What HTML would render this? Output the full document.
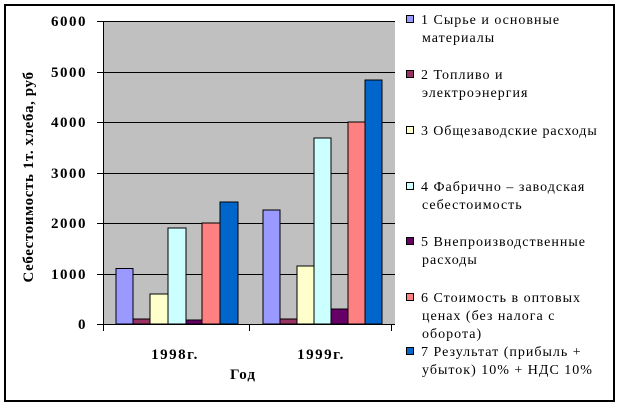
<!DOCTYPE html>
<html><head><meta charset="utf-8"><style>
body{margin:0;background:#fff;}
svg text{font-family:"Liberation Serif","Times New Roman",serif;}
</style></head><body>
<svg width="619" height="407" xmlns="http://www.w3.org/2000/svg" font-family="Liberation Serif, Times New Roman, serif">
<rect x="0" y="0" width="619" height="407" fill="#fff"/>
<rect x="5" y="5" width="609" height="396" fill="#fff" stroke="#000" stroke-width="2"/>
<rect x="103" y="21" width="292" height="303" fill="#c0c0c0"/>
<g stroke="#000" stroke-width="1">
<line x1="103" y1="21.5" x2="395" y2="21.5"/>
<line x1="103" y1="72.5" x2="395" y2="72.5"/>
<line x1="103" y1="122.5" x2="395" y2="122.5"/>
<line x1="103" y1="173.5" x2="395" y2="173.5"/>
<line x1="103" y1="223.5" x2="395" y2="223.5"/>
<line x1="103" y1="274.5" x2="395" y2="274.5"/>
<line x1="103.5" y1="21" x2="103.5" y2="331"/>
<line x1="97" y1="21.5" x2="103" y2="21.5"/>
<line x1="97" y1="72.5" x2="103" y2="72.5"/>
<line x1="97" y1="122.5" x2="103" y2="122.5"/>
<line x1="97" y1="173.5" x2="103" y2="173.5"/>
<line x1="97" y1="223.5" x2="103" y2="223.5"/>
<line x1="97" y1="274.5" x2="103" y2="274.5"/>
<line x1="97" y1="324.5" x2="103" y2="324.5"/>
<line x1="249.5" y1="324" x2="249.5" y2="331"/>
<line x1="391.5" y1="324" x2="391.5" y2="331"/>
</g>
<g stroke="#000" stroke-width="1">
<rect x="116" y="268.5" width="17" height="55.5" fill="#9999ff"/>
<rect x="133" y="319" width="17" height="5" fill="#993366"/>
<rect x="150" y="294" width="18" height="30" fill="#ffffcc"/>
<rect x="168" y="228" width="18" height="96" fill="#ccffff"/>
<rect x="186" y="320" width="16" height="4" fill="#660066"/>
<rect x="202" y="223" width="18" height="101" fill="#ff8080"/>
<rect x="220" y="202" width="18" height="122" fill="#0066cc"/>
<rect x="263" y="210" width="17" height="114" fill="#9999ff"/>
<rect x="280" y="319" width="17" height="5" fill="#993366"/>
<rect x="297" y="266" width="17" height="58" fill="#ffffcc"/>
<rect x="314" y="138" width="17" height="186" fill="#ccffff"/>
<rect x="331" y="309" width="17" height="15" fill="#660066"/>
<rect x="348" y="122" width="17" height="202" fill="#ff8080"/>
<rect x="365" y="80" width="17" height="244" fill="#0066cc"/>
</g>
<line x1="103" y1="324.5" x2="395" y2="324.5" stroke="#000"/>
<g font-size="15" font-weight="bold" text-anchor="end" letter-spacing="1.5">
<text x="87" y="26">6000</text>
<text x="87" y="77">5000</text>
<text x="87" y="127">4000</text>
<text x="87" y="178">3000</text>
<text x="87" y="228">2000</text>
<text x="87" y="279">1000</text>
<text x="87" y="329">0</text>
</g>
<text transform="translate(33,177) rotate(-90)" font-size="15" font-weight="bold" text-anchor="middle" letter-spacing="0.6">Себестоимость 1т. хлеба, руб</text>
<g font-size="15" font-weight="bold" text-anchor="middle">
<text x="175" y="359" letter-spacing="1.5">1998г.</text>
<text x="321" y="359" letter-spacing="1.5">1999г.</text>
<text x="243" y="379" letter-spacing="1">Год</text>
</g>
<g stroke="#000" stroke-width="1">
<rect x="406.5" y="15.5" width="7" height="7" fill="#9999ff"/>
<rect x="406.5" y="70.5" width="7" height="7" fill="#993366"/>
<rect x="406.5" y="126.5" width="7" height="7" fill="#ffffcc"/>
<rect x="406.5" y="182.5" width="7" height="7" fill="#ccffff"/>
<rect x="406.5" y="237.5" width="7" height="7" fill="#660066"/>
<rect x="406.5" y="293.5" width="7" height="7" fill="#ff8080"/>
<rect x="406.5" y="347.5" width="7" height="7" fill="#0066cc"/>
</g>
<g font-size="14" letter-spacing="1">
<text x="421" y="24">1 Сырье и основные</text>
<text x="422" y="42">материалы</text>
<text x="421" y="79">2 Топливо и</text>
<text x="422" y="97">электроэнергия</text>
<text x="421" y="135" letter-spacing="0.9">3 Общезаводские расходы</text>
<text x="421" y="191">4 Фабрично – заводская</text>
<text x="422" y="209">себестоимость</text>
<text x="421" y="246">5 Внепроизводственные</text>
<text x="422" y="264">расходы</text>
<text x="421" y="302">6 Стоимость в оптовых</text>
<text x="422" y="320">ценах (без налога с</text>
<text x="422" y="338">оборота)</text>
<text x="421" y="356">7 Результат (прибыль +</text>
<text x="422" y="374">убыток) 10% + НДС 10%</text>
</g>
</svg>
</body></html>
